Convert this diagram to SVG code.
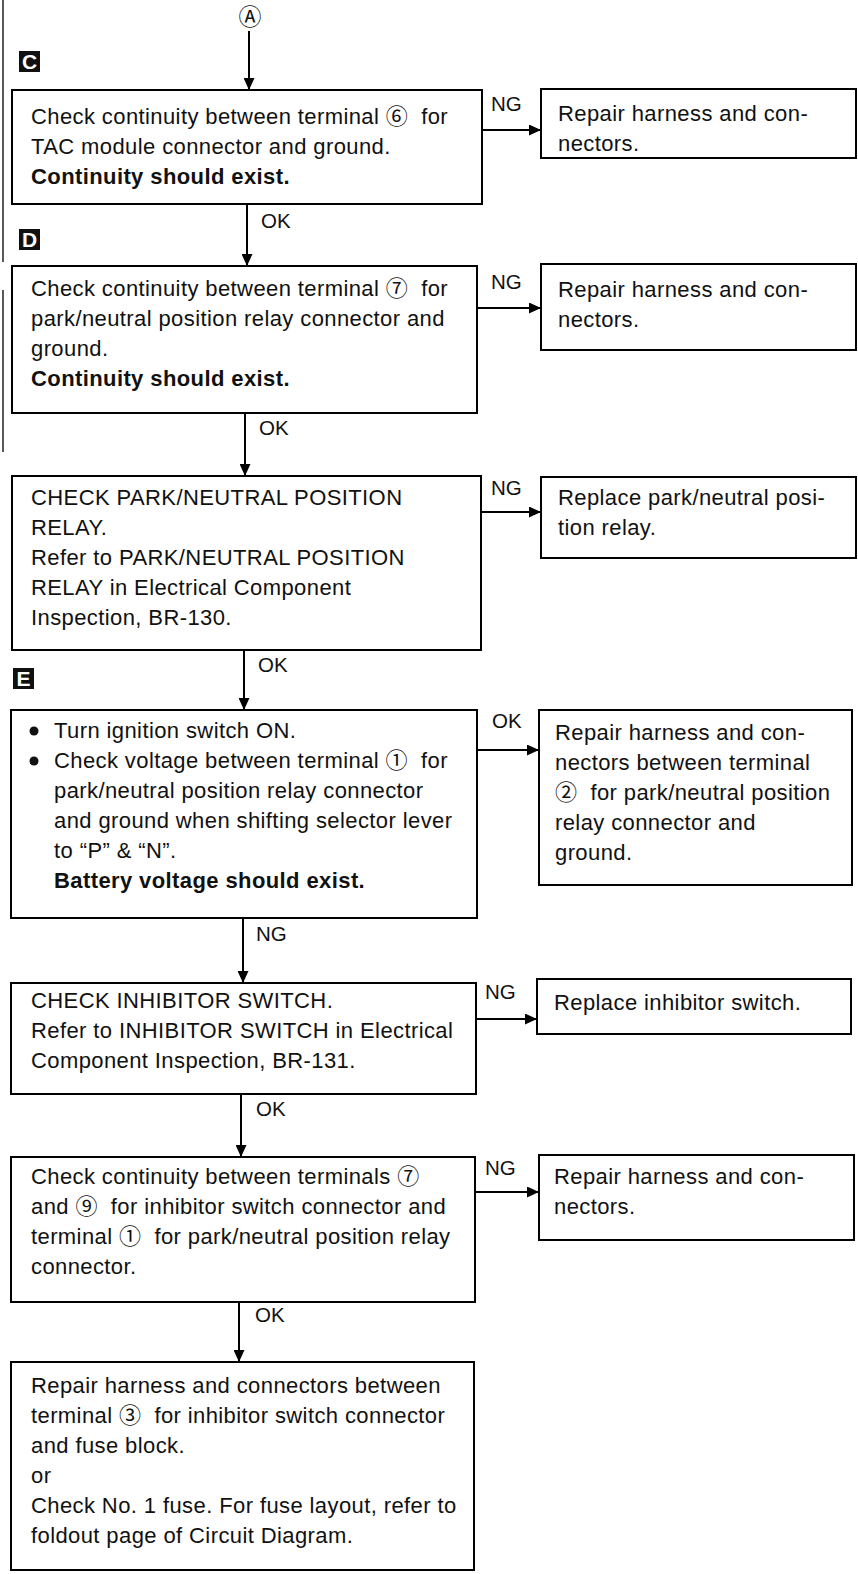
<svg xmlns="http://www.w3.org/2000/svg" width="858" height="1574" viewBox="0 0 858 1574">
<defs>
<marker id="ah" markerUnits="userSpaceOnUse" markerWidth="12" markerHeight="11" refX="12" refY="5.5" orient="auto">
<path d="M0,0 L12,5.5 L0,11 z" fill="#000"/>
</marker>
<style>
.box{fill:#fff;stroke:#000;stroke-width:2}
.t{font-family:"Liberation Sans","Noto Sans CJK JP",sans-serif;font-size:22px;letter-spacing:0.4px;fill:#111;white-space:pre}
.b{font-weight:bold}
.lbl{font-family:"Liberation Sans",sans-serif;font-size:20.5px;fill:#111}
.tag{fill:#111}
.tagt{font-family:"Liberation Sans",sans-serif;font-size:21px;font-weight:bold;fill:#fff;text-anchor:middle}
.c{stroke:#000;stroke-width:2;fill:none}
.edge{stroke:#222;stroke-width:1.5}
</style>
</defs>
<rect width="858" height="1574" fill="#fff"/>
<g id="page-edge">
<line class="edge" x1="3" y1="0" x2="3" y2="262"/>
<line class="edge" x1="3" y1="290" x2="3" y2="452"/>
</g>
<g id="tags">
<g id="tag-C"><rect class="tag" x="19" y="51" width="21" height="21"/><text class="tagt" x="29.5" y="69">C</text></g>
<g id="tag-D"><rect class="tag" x="19" y="229" width="21" height="21"/><text class="tagt" x="29.5" y="247">D</text></g>
<g id="tag-E"><rect class="tag" x="13" y="668" width="21" height="21"/><text class="tagt" x="23.5" y="686">E</text></g>
</g>
<g id="connectors">
<text class="t" x="250" y="25" style="font-size:23px;letter-spacing:0;text-anchor:middle">Ⓐ</text>
<line class="c" x1="249" y1="31" x2="249" y2="90" marker-end="url(#ah)"/>
<line class="c" x1="482" y1="130" x2="541" y2="130" marker-end="url(#ah)"/>
<text class="lbl" x="491" y="111">NG</text>
<line class="c" x1="247" y1="204" x2="247" y2="266" marker-end="url(#ah)"/>
<text class="lbl" x="261" y="228">OK</text>
<line class="c" x1="477" y1="308" x2="541" y2="308" marker-end="url(#ah)"/>
<text class="lbl" x="491" y="289">NG</text>
<line class="c" x1="245" y1="413" x2="245" y2="476" marker-end="url(#ah)"/>
<text class="lbl" x="259" y="435">OK</text>
<line class="c" x1="481" y1="512" x2="541" y2="512" marker-end="url(#ah)"/>
<text class="lbl" x="491" y="495">NG</text>
<line class="c" x1="244" y1="650" x2="244" y2="710" marker-end="url(#ah)"/>
<text class="lbl" x="258" y="672">OK</text>
<line class="c" x1="477" y1="750" x2="539" y2="750" marker-end="url(#ah)"/>
<text class="lbl" x="492" y="728">OK</text>
<line class="c" x1="243" y1="918" x2="243" y2="983" marker-end="url(#ah)"/>
<text class="lbl" x="256" y="941">NG</text>
<line class="c" x1="476" y1="1019" x2="537" y2="1019" marker-end="url(#ah)"/>
<text class="lbl" x="485" y="999">NG</text>
<line class="c" x1="241" y1="1094" x2="241" y2="1157" marker-end="url(#ah)"/>
<text class="lbl" x="256" y="1116">OK</text>
<line class="c" x1="475" y1="1192" x2="539" y2="1192" marker-end="url(#ah)"/>
<text class="lbl" x="485" y="1175">NG</text>
<line class="c" x1="239" y1="1302" x2="239" y2="1362" marker-end="url(#ah)"/>
<text class="lbl" x="255" y="1322">OK</text>
</g>
<g id="node-c">
<rect class="box" x="12" y="90" width="470" height="114"/>
<text class="t" x="31" y="124">Check continuity between terminal ⑥  for</text>
<text class="t" x="31" y="154">TAC module connector and ground.</text>
<text class="t b" x="31" y="184">Continuity should exist.</text>
</g>
<g id="node-c-ng">
<rect class="box" x="541" y="89" width="315" height="69"/>
<text class="t" x="558" y="121">Repair harness and con-</text>
<text class="t" x="558" y="151">nectors.</text>
</g>
<g id="node-d">
<rect class="box" x="12" y="266" width="465" height="147"/>
<text class="t" x="31" y="296">Check continuity between terminal ⑦  for</text>
<text class="t" x="31" y="326">park/neutral position relay connector and</text>
<text class="t" x="31" y="356">ground.</text>
<text class="t b" x="31" y="386">Continuity should exist.</text>
</g>
<g id="node-d-ng">
<rect class="box" x="541" y="264" width="315" height="86"/>
<text class="t" x="558" y="297">Repair harness and con-</text>
<text class="t" x="558" y="327">nectors.</text>
</g>
<g id="node-relay">
<rect class="box" x="12" y="476" width="469" height="174"/>
<text class="t" x="31" y="505">CHECK PARK/NEUTRAL POSITION</text>
<text class="t" x="31" y="535">RELAY.</text>
<text class="t" x="31" y="565">Refer to PARK/NEUTRAL POSITION</text>
<text class="t" x="31" y="595">RELAY in Electrical Component</text>
<text class="t" x="31" y="625">Inspection, BR-130.</text>
</g>
<g id="node-relay-ng">
<rect class="box" x="541" y="477" width="315" height="81"/>
<text class="t" x="558" y="505">Replace park/neutral posi-</text>
<text class="t" x="558" y="535">tion relay.</text>
</g>
<g id="node-e">
<rect class="box" x="11" y="710" width="466" height="208"/>
<circle cx="34" cy="731" r="4.5" fill="#111"/>
<circle cx="34" cy="761" r="4.5" fill="#111"/>
<text class="t" x="54" y="738">Turn ignition switch ON.</text>
<text class="t" x="54" y="768">Check voltage between terminal ①  for</text>
<text class="t" x="54" y="798">park/neutral position relay connector</text>
<text class="t" x="54" y="828">and ground when shifting selector lever</text>
<text class="t" x="54" y="858">to “P” &amp; “N”.</text>
<text class="t b" x="54" y="888">Battery voltage should exist.</text>
</g>
<g id="node-e-ok">
<rect class="box" x="539" y="710" width="313" height="175"/>
<text class="t" x="555" y="740">Repair harness and con-</text>
<text class="t" x="555" y="770">nectors between terminal</text>
<text class="t" x="555" y="800">②  for park/neutral position</text>
<text class="t" x="555" y="830">relay connector and</text>
<text class="t" x="555" y="860">ground.</text>
</g>
<g id="node-inhibitor">
<rect class="box" x="11" y="983" width="465" height="111"/>
<text class="t" x="31" y="1008">CHECK INHIBITOR SWITCH.</text>
<text class="t" x="31" y="1038">Refer to INHIBITOR SWITCH in Electrical</text>
<text class="t" x="31" y="1068">Component Inspection, BR-131.</text>
</g>
<g id="node-inhibitor-ng">
<rect class="box" x="537" y="979" width="314" height="55"/>
<text class="t" x="554" y="1010">Replace inhibitor switch.</text>
</g>
<g id="node-continuity">
<rect class="box" x="11" y="1157" width="464" height="145"/>
<text class="t" x="31" y="1184">Check continuity between terminals ⑦</text>
<text class="t" x="31" y="1214">and ⑨  for inhibitor switch connector and</text>
<text class="t" x="31" y="1244">terminal ①  for park/neutral position relay</text>
<text class="t" x="31" y="1274">connector.</text>
</g>
<g id="node-continuity-ng">
<rect class="box" x="539" y="1155" width="315" height="85"/>
<text class="t" x="554" y="1184">Repair harness and con-</text>
<text class="t" x="554" y="1214">nectors.</text>
</g>
<g id="node-final">
<rect class="box" x="11" y="1362" width="463" height="208"/>
<text class="t" x="31" y="1393">Repair harness and connectors between</text>
<text class="t" x="31" y="1423">terminal ③  for inhibitor switch connector</text>
<text class="t" x="31" y="1453">and fuse block.</text>
<text class="t" x="31" y="1483">or</text>
<text class="t" x="31" y="1513">Check No. 1 fuse. For fuse layout, refer to</text>
<text class="t" x="31" y="1543">foldout page of Circuit Diagram.</text>
</g>
</svg>
